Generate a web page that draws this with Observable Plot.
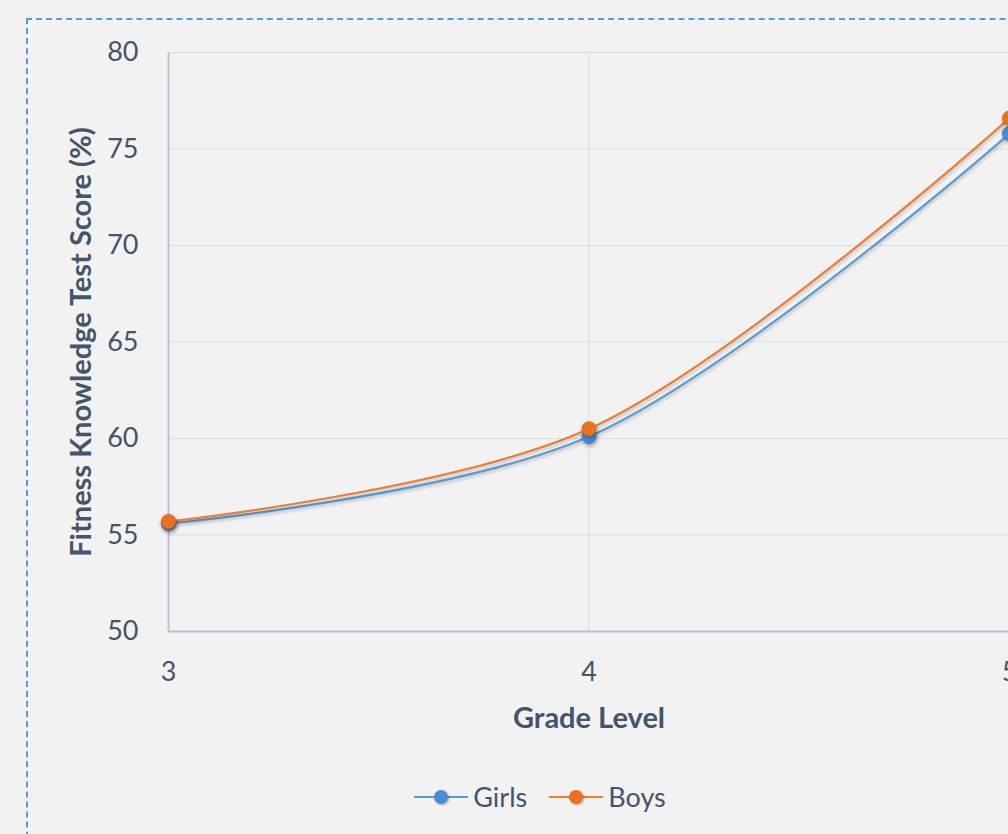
<!DOCTYPE html>
<html>
<head>
<meta charset="utf-8">
<script src="https://cdn.jsdelivr.net/npm/d3@7"></script>
<script src="https://cdn.jsdelivr.net/npm/@observablehq/plot@0.6"></script>
<style>
  html, body { margin: 0; padding: 0; background: #f2f2f2; overflow: hidden; width: 1008px; height: 834px; }
  #frame { position: absolute; left: 26px; top: 18px; width: 1100px; height: 900px; border: 2px dashed #5b9bd5; box-sizing: border-box; }
  #chart { position: absolute; left: 0; top: 0; width: 1100px; }
  #chart svg { max-width: none !important; }
  #chart g[aria-label="dot"] circle { filter: drop-shadow(1px 2px 2px rgba(0,0,0,0.35)); }
  #chart g[aria-label="line"] path { filter: drop-shadow(1px 2px 1.5px rgba(0,0,0,0.2)); }
  #legend { position: absolute; left: 0; width: 1080px; top: 780px; display: flex; justify-content: center; gap: 22px;
            font-family: Lato, sans-serif; font-size: 27px; color: #44546a; }
  .item { display: flex; align-items: center; gap: 5px; }
  .item svg circle { filter: drop-shadow(1px 1px 1px rgba(0,0,0,0.3)); }
</style>
</head>
<body>
<div id="frame"></div>
<div id="chart"></div>
<div id="legend"></div>
<script>
const grades = [3, 4, 5];
const girls = [55.6, 60.1, 75.8];
const boys = [55.7, 60.5, 76.6];
const series = ["Girls", "Boys"];
const colors = ["#5b9bd5", "#ed7d31"];
const dotColors = ["#4a8bd2", "#eb7020"];
const yTicks = [50, 55, 60, 65, 70, 75, 80];

const data = [];
grades.forEach((g, i) => {
  data.push({grade: g, score: girls[i], series: "Girls"});
  data.push({grade: g, score: boys[i], series: "Boys"});
});

const textColor = "#44546a";
const font = "Lato, sans-serif";

const plot = Plot.plot({
  width: 1100,
  height: 740,
  marginLeft: 168,
  marginRight: 91,
  marginTop: 52,
  marginBottom: 109,
  style: {background: "transparent", fontFamily: font, color: textColor, overflow: "visible"},
  x: {domain: [3, 5]},
  y: {domain: [50, 80]},
  color: {domain: series, range: colors},
  marks: [
    Plot.gridY(yTicks.slice(1), {stroke: "#d9dee6", strokeOpacity: 1, strokeWidth: 1.2}),
    Plot.gridX(grades, {stroke: "#d9dee6", strokeOpacity: 1, strokeWidth: 1.2}),
    Plot.axisY(yTicks, {tickSize: 0, tickPadding: 30, fontSize: 27, fill: textColor, label: null}),
    Plot.axisX(grades, {tickSize: 0, tickPadding: 30, fontSize: 27, fill: textColor, label: null, tickFormat: d => String(d)}),
    Plot.ruleX([3], {stroke: "#b7c2cf", strokeWidth: 1.8}),
    Plot.ruleY([50], {stroke: "#b7c2cf", strokeWidth: 1.8}),
    Plot.line(data, {x: "grade", y: "score", z: "series", stroke: "series", strokeWidth: 2.2, curve: "catmull-rom"}),
    Plot.dot(data.filter(d => d.series === "Girls"), {x: "grade", y: "score", r: 7, fill: dotColors[0], stroke: "#3f7fc4", strokeWidth: 1}),
    Plot.dot(data.filter(d => d.series === "Boys"), {x: "grade", y: "score", r: 7, fill: dotColors[1], stroke: "#d9661c", strokeWidth: 1}),
    Plot.text(["Grade Level"], {frameAnchor: "bottom", dy: 87, fontSize: 29, fontWeight: "bold", fill: textColor, lineAnchor: "middle", textAnchor: "middle"}),
    Plot.text(["Fitness Knowledge Test Score (%)"], {frameAnchor: "left", dx: -87, rotate: -90, fontSize: 29, fontWeight: "bold", fill: textColor, lineAnchor: "middle", textAnchor: "middle"})
  ]
});
document.getElementById("chart").appendChild(plot);

const legend = document.getElementById("legend");
series.forEach((s, i) => {
  const item = document.createElement("div");
  item.className = "item";
  item.innerHTML = `<svg width="54" height="20"><line x1="0" x2="54" y1="10" y2="10" stroke="${colors[i]}" stroke-width="2.2"/><circle cx="27" cy="10" r="7" fill="${dotColors[i]}"/></svg><span>${s}</span>`;
  legend.appendChild(item);
});
</script>
</body>
</html>
